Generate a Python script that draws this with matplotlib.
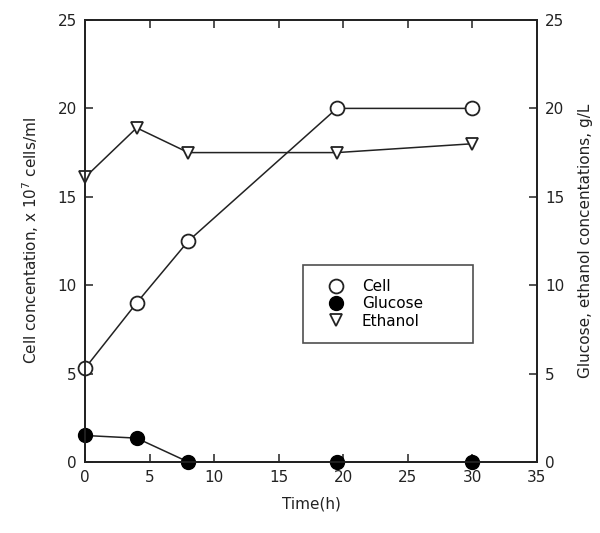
import matplotlib
matplotlib.use("Agg")
import matplotlib.pyplot as plt

time_cell = [0, 4, 8, 19.5, 30]
cell = [5.3, 9.0, 12.5, 20.0, 20.0]
time_glu = [0, 4, 8, 19.5, 30]
glucose = [1.5, 1.35, 0.0, 0.0, 0.0]
time_eth = [0, 4, 8, 19.5, 30]
ethanol = [16.1, 18.9, 17.5, 17.5, 18.0]

xticks = [0, 5, 10, 15, 20, 25, 30, 35]
yticks = [0, 5, 10, 15, 20, 25]

plt.rcParams['font.family'] = ['DejaVu Sans']
fig = plt.figure(figsize=(6, 5.33), dpi=100)
ax = fig.add_axes([0.1417, 0.1332, 0.7533, 0.8293])
ax2 = ax.twinx()

lc = '#222222'
ax.plot(time_cell, cell, '-o', color=lc, mfc='white', mec=lc, ms=10, lw=1.1, mew=1.3,
        clip_on=False, zorder=3, label='Cell')
ax.plot(time_glu, glucose, '-o', color=lc, mfc='black', mec='black', ms=10, lw=1.1,
        clip_on=False, zorder=3, label='Glucose')
ax.plot(time_eth, ethanol, '-v', color=lc, mfc='white', mec=lc, ms=9, lw=1.1, mew=1.3,
        clip_on=False, zorder=3, label='Ethanol')

ax.set_xlim(0, 35)
ax.set_ylim(0, 25)
ax2.set_ylim(0, 25)
ax.set_xticks(xticks)
ax.set_yticks(yticks)
ax2.set_yticks(yticks)

for a in (ax, ax2):
    for s in a.spines.values():
        s.set_linewidth(1.3)
        s.set_color(lc)
ax.tick_params(axis='both', direction='in', length=6, width=1.1, labelsize=11,
               colors=lc, top=True, pad=6)
ax.tick_params(axis='y', right=False)
ax2.tick_params(axis='y', direction='in', length=6, width=1.1, labelsize=11,
                colors=lc, pad=6)

ax.set_xlabel('Time(h)', fontsize=11, color=lc, labelpad=8)
ax.set_ylabel('Cell concentation, x 10$^7$ cells/ml', fontsize=11, color=lc, labelpad=12)
ax2.set_ylabel('Glucose, ethanol concentations, g/L', fontsize=11, color=lc, labelpad=10)

leg = ax.legend(loc='center', bbox_to_anchor=(0.482, 0.269, 0.376, 0.177), mode='expand',
                fontsize=11, frameon=True, fancybox=False, edgecolor=lc, handlelength=2.6,
                handletextpad=0.35, borderpad=0.9, labelspacing=0.15,
                borderaxespad=0)
leg.get_frame().set_linewidth(1.2)
for line in leg.get_lines():
    line.set_linestyle('')

fig.savefig('out.png', dpi=100)
